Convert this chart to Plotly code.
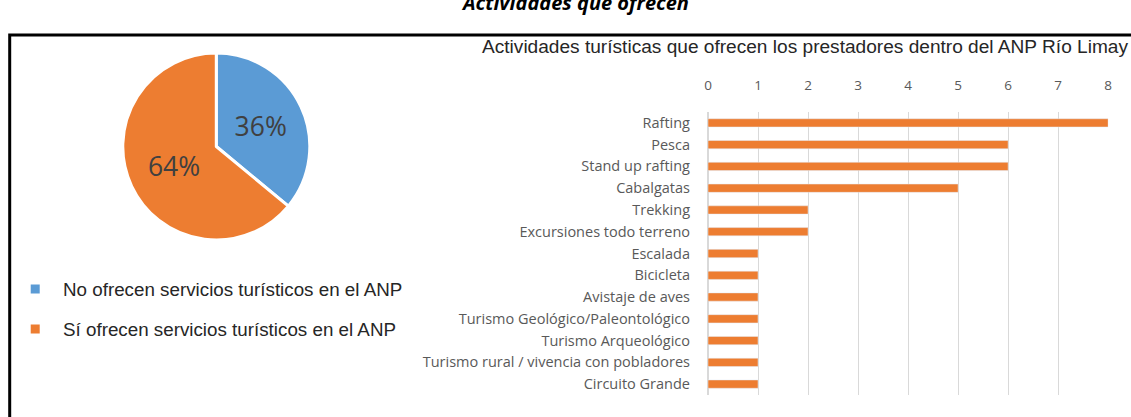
import plotly.graph_objects as go

# Pie data
pie_labels = ["No ofrecen servicios turísticos en el ANP", "Sí ofrecen servicios turísticos en el ANP"]
pie_values = [36, 64]
pie_colors = ["#5B9BD5", "#ED7D31"]

# Bar data
activities = ["Rafting", "Pesca", "Stand up rafting", "Cabalgatas", "Trekking",
              "Excursiones todo terreno", "Escalada", "Bicicleta", "Avistaje de aves",
              "Turismo Geológico/Paleontológico", "Turismo Arqueológico",
              "Turismo rural / vivencia con pobladores", "Circuito Grande"]
counts = [8, 6, 6, 5, 2, 2, 1, 1, 1, 1, 1, 1, 1]
x_ticks = [0, 1, 2, 3, 4, 5, 6, 7, 8]

W, H = 1131, 417


def PX(p):
    # horizontal pixel -> paper fraction (small compensation for page rendering)
    return ((p - 4.3) / 0.9925) / W


def PY(p):
    return 1 - p / H


fig = go.Figure()

fig.add_trace(go.Pie(
    labels=pie_labels, values=pie_values, sort=False, direction="clockwise",
    rotation=0, marker=dict(colors=pie_colors, line=dict(color="white", width=3)),
    textinfo="percent", texttemplate="%{percent:.0%}", textposition="inside",
    insidetextfont=dict(family="Open Sans", size=26.5, color="#404040"),
    domain=dict(x=[PX(123), PX(310)], y=[PY(240), PY(53)]),
    showlegend=False, hoverinfo="label+percent"
))

fig.add_trace(go.Bar(
    y=activities, x=counts, orientation="h",
    marker=dict(color="#ED7D31"), xaxis="x", yaxis="y", showlegend=False
))

# custom legend for the pie
shapes = []
annotations = []
for i, (lab, col) in enumerate(zip(pie_labels, pie_colors)):
    yc = 289 + 40 * i
    shapes.append(dict(type="rect", xref="paper", yref="paper",
                       x0=PX(31), x1=PX(40), y0=PY(yc + 4.5), y1=PY(yc - 4.5),
                       fillcolor=col, line=dict(width=0)))
    annotations.append(dict(text=lab, xref="paper", yref="paper", x=PX(61), y=PY(yc),
                            xanchor="left", yanchor="middle", showarrow=False,
                            font=dict(family="Liberation Sans", size=18.8, color="#262626")))

# border box
shapes.append(dict(type="rect", xref="paper", yref="paper",
                   x0=PX(10), x1=PX(1140), y0=-0.05, y1=PY(35),
                   line=dict(color="black", width=3), fillcolor="rgba(0,0,0,0)"))

# bar chart title
annotations.append(dict(text="Actividades turísticas que ofrecen los prestadores dentro del ANP Río Limay",
                        xref="paper", yref="paper", x=PX(805), y=PY(47),
                        xanchor="center", yanchor="middle", showarrow=False,
                        font=dict(family="Liberation Sans", size=19.1, color="#262626")))
# clipped heading at top
annotations.append(dict(text="<b><i>Actividades que ofrecen</i></b>",
                        xref="paper", yref="paper", x=PX(575), y=PY(3),
                        xanchor="center", yanchor="middle", showarrow=False,
                        font=dict(family="Open Sans", size=20, color="black")))

fig.update_layout(
    width=W, height=H, autosize=False,
    margin=dict(l=0, r=0, t=0, b=0),
    paper_bgcolor="white", plot_bgcolor="white",
    bargap=0.62,
    xaxis=dict(domain=[PX(708), PX(1108)], range=[0, 8], side="top",
               tickvals=x_ticks, showgrid=True, gridcolor="#D9D9D9", gridwidth=1,
               zeroline=True, zerolinecolor="#D9D9D9", showline=False, ticks="",
               ticklabelstandoff=18,
               tickfont=dict(family="Open Sans", size=13.5, color="#595959"), anchor="y"),
    yaxis=dict(domain=[PY(395), PY(112)], autorange="reversed",
               type="category", showgrid=False, zeroline=False, showline=False, ticks="",
               ticklabelstandoff=17,
               tickfont=dict(family="Open Sans", size=14.5, color="#595959"), anchor="x"),
    shapes=shapes, annotations=annotations,
)

fig.write_html("out.html",
               config={"responsive": False, "displayModeBar": False},
               post_script="document.body.style.margin='0px';document.body.style.overflow='hidden';")
